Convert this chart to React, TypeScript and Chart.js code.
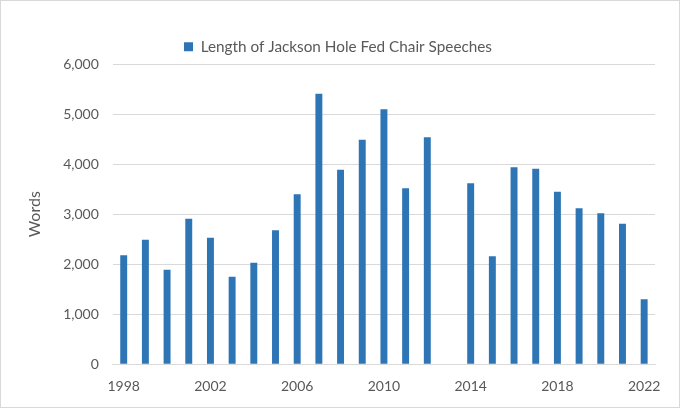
import { useEffect, useRef } from "react";
import { Chart, registerables } from "chart.js";

Chart.register(...registerables);

const YEARS = [
  "1998", "1999", "2000", "2001", "2002", "2003", "2004", "2005", "2006",
  "2007", "2008", "2009", "2010", "2011", "2012", "2013", "2014", "2015",
  "2016", "2017", "2018", "2019", "2020", "2021", "2022",
];

// 2013: no speech by the chair
const WORDS = [
  2180, 2490, 1890, 2910, 2530, 1750, 2030, 2680, 3400,
  5410, 3890, 4490, 5100, 3520, 4540, null, 3620, 2160,
  3940, 3910, 3450, 3120, 3020, 2810, 1300,
];

const SERIES_LABEL = "Length of Jackson Hole Fed Chair Speeches";
const Y_TITLE = "Words";
const BAR_COLOR = "#2e75b6";
const TEXT_COLOR = "#595959";
const GRID_COLOR = "#d9d9d9";
const FONT = "Lato, 'Open Sans', sans-serif";

export default function App() {
  const canvasRef = useRef<HTMLCanvasElement>(null);

  useEffect(() => {
    document.body.style.margin = "0";
    if (!canvasRef.current) return;

    const chart = new Chart(canvasRef.current, {
      type: "bar",
      data: {
        labels: YEARS,
        datasets: [
          {
            label: SERIES_LABEL,
            data: WORDS,
            backgroundColor: BAR_COLOR,
            barPercentage: 0.64,
            categoryPercentage: 0.5,
          },
        ],
      },
      options: {
        animation: false,
        responsive: true,
        maintainAspectRatio: false,
        layout: { padding: { left: 20, right: 24, top: 16, bottom: 6 } },
        plugins: {
          legend: {
            position: "top",
            labels: {
              color: TEXT_COLOR,
              font: { family: FONT, size: 15.3 },
              boxWidth: 9,
              boxHeight: 9,
              padding: 22,
            },
          },
          tooltip: { enabled: false },
        },
        scales: {
          x: {
            grid: { display: false },
            border: { color: GRID_COLOR },
            ticks: {
              color: TEXT_COLOR,
              font: { family: FONT, size: 14 },
              autoSkip: false,
              maxRotation: 0,
              padding: 6,
              callback: (_value, index) =>
                (Number(YEARS[index]) - 1998) % 4 === 0 ? YEARS[index] : "",
            },
          },
          y: {
            min: 0,
            max: 6000,
            grid: { color: GRID_COLOR, drawTicks: false },
            border: { display: false },
            ticks: {
              stepSize: 1000,
              color: TEXT_COLOR,
              font: { family: FONT, size: 14 },
              padding: 14,
              callback: (value) => Number(value).toLocaleString("en-US"),
            },
            title: {
              display: true,
              text: Y_TITLE,
              color: TEXT_COLOR,
              font: { family: FONT, size: 16 },
              padding: { bottom: 5 },
            },
          },
        },
      },
    });

    return () => chart.destroy();
  }, []);

  return (
    <div
      style={{
        width: 680,
        height: 408,
        boxSizing: "border-box",
        border: `1px solid ${GRID_COLOR}`,
        background: "#fff",
        position: "relative",
      }}
    >
      <canvas ref={canvasRef}></canvas>
    </div>
  );
}
